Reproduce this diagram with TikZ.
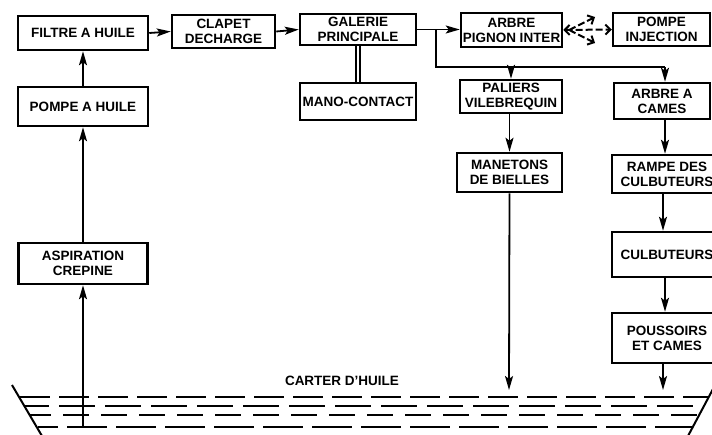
\documentclass[tikz,border=0pt]{standalone}
\usepackage{fontspec}
\setmainfont{Liberation Sans}
\usetikzlibrary{arrows.meta}
\begin{document}
\begin{tikzpicture}[x=1pt,y=-1pt,
  box/.style={draw, line width=2.5pt, inner sep=1pt, align=center,
    font=\fontsize{13.5}{15}\selectfont\bfseries},
  conn/.style={line width=1.8pt},
  arr/.style={line width=1.8pt, -{Stealth[length=14pt,width=8pt,inset=3pt]}},
  dsh/.style={line width=2pt, dash pattern=on 7pt off 3pt},
  oil/.style={line width=2pt},
  lbl/.style={font=\fontsize{13.5}{15}\selectfont\bfseries}]
\useasboundingbox (0,0) rectangle (712,434);
\clip (0,0) rectangle (712,434);
\fill[white] (0,0) rectangle (712,434);

% boxes
\node[box, minimum width=130pt, minimum height=34pt] (filtre) at (83,33) {FILTRE A HUILE};
\node[box, minimum width=130pt, minimum height=39pt] (pompeh) at (83,106.5) {POMPE A HUILE};
\node[box, minimum width=129pt, minimum height=41pt] (aspi) at (83,263.5) {ASPIRATION\\CREPINE};
\node[box, minimum width=103pt, minimum height=33pt] (clapet) at (223.5,31.5) {CLAPET\\DECHARGE};
\node[box, minimum width=116pt, minimum height=31pt] (galerie) at (358,29.5) {GALERIE\\PRINCIPALE};
\node[box, minimum width=116pt, minimum height=37pt] (mano) at (358,101.5) {MANO-CONTACT};
\node[box, minimum width=101pt, minimum height=34pt] (pignon) at (511.5,30) {ARBRE\\PIGNON INTER};
\node[box, minimum width=97pt, minimum height=33pt] (pinj) at (661.5,29.5) {POMPE\\INJECTION};
\node[box, minimum width=102pt, minimum height=33pt] (paliers) at (511,96.5) {PALIERS\\VILEBREQUIN};
\node[box, minimum width=96pt, minimum height=36pt] (cames) at (662,101) {ARBRE A\\CAMES};
\node[box, minimum width=105pt, minimum height=39pt] (manetons) at (509.5,172.5) {MANETONS\\DE BIELLES};
\node[box, minimum width=110pt, minimum height=38pt] (rampe) at (667,174) {RAMPE DES\\CULBUTEURS};
\node[box, minimum width=110pt, minimum height=45pt] (culb) at (667,254.5) {CULBUTEURS};
\node[box, minimum width=110pt, minimum height=50pt] (pouss) at (667,338) {POUSSOIRS\\ET CAMES};

% coordinates
\coordinate (j) at (436,30);
\coordinate (b1) at (436,67);
\coordinate (b2) at (665,67);
\coordinate (du) at (595,17);
\coordinate (dd) at (595,43);
\coordinate (oilL) at (83,427);
\coordinate (oilM) at (509,390);
\coordinate (oilP) at (663,390);

% left column
\draw[arr] (oilL) -- (aspi.south);
\draw[arr] (aspi.north) -- (pompeh.south);
\draw[arr] (pompeh.north) -- (filtre.south);
\draw[arr] (filtre.east) -- (clapet.west);
\draw[arr] (clapet.east) -- (galerie.west);
\draw[line width=1.6pt, double, double distance=2.4pt] (galerie.south) -- (mano.north);

% galerie branches
\draw[arr] (galerie.east) -- (galerie.east -| pignon.west);
\draw[conn] (j) -- (b1) -- (b2);
\draw[arr] (b1 -| paliers.north) -- (paliers.north);
\draw[arr] (b2) -- (b2 |- cames.north);

% dashed pignon / pompe injection
\draw[dsh, {Straight Barb[length=5pt,width=10pt]}-{Straight Barb[length=5pt,width=10pt]}] (pignon.east) -- (pinj.west);
\draw[dsh, -{Straight Barb[length=5pt,width=10pt]}] ([xshift=6pt]pignon.east) -- (du);
\draw[dsh, -{Straight Barb[length=5pt,width=10pt]}] ([xshift=6pt]pignon.east) -- (dd);

% right columns
\draw[arr] (paliers.south -| manetons.north) -- (manetons.north);
\draw[arr] (manetons.south) -- (oilM);
\draw[arr] ([xshift=3pt]cames.south) -- ([xshift=3pt]cames.south |- rampe.north);
\draw[arr] ([xshift=-4pt]rampe.south) -- ([xshift=-4pt]rampe.south |- culb.north);
\draw[arr] ([xshift=-2pt]culb.south) -- ([xshift=-2pt]culb.south |- pouss.north);
\draw[arr] (pouss.south -| oilP) -- (oilP);

% oil sump
\node[lbl] (carter) at (342,381) {CARTER D'HUILE};
\draw[oil] (12,385) -- (42,436);
\draw[oil] (713,389) -- (688,436);
\draw[oil, dash pattern=on 30pt off 9pt] (20,397) -- (708,397);
\draw[oil, dash pattern=on 36pt off 10pt, dash phase=12pt] (25,406) -- (704,406);
\draw[oil, dash pattern=on 26pt off 12pt, dash phase=5pt] (30,415) -- (699,415);
\draw[oil, dash pattern=on 40pt off 9pt, dash phase=20pt] (38,427) -- (692,427);
\end{tikzpicture}
\end{document}
